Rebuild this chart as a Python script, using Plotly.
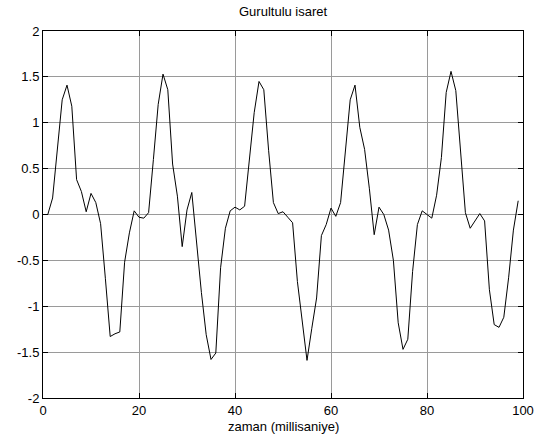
import plotly.graph_objects as go

t_ms = list(range(100))
signal = [
    0.0, 0.0, 0.18, 0.72, 1.25, 1.41, 1.18, 0.38, 0.25, 0.03,
    0.23, 0.13, -0.10, -0.70, -1.33, -1.30, -1.28, -0.52, -0.20, 0.04,
    -0.03, -0.04, 0.02, 0.60, 1.20, 1.53, 1.36, 0.55, 0.20, -0.35,
    0.05, 0.24, -0.33, -0.85, -1.31, -1.58, -1.51, -0.58, -0.15, 0.04,
    0.08, 0.05, 0.09, 0.58, 1.11, 1.45, 1.36, 0.70, 0.13, 0.01,
    0.03, -0.03, -0.09, -0.73, -1.16, -1.59, -1.24, -0.91, -0.23, -0.11,
    0.07, -0.02, 0.13, 0.65, 1.25, 1.41, 0.95, 0.71, 0.28, -0.22,
    0.08, 0.00, -0.17, -0.50, -1.18, -1.47, -1.36, -0.62, -0.11, 0.04,
    0.00, -0.04, 0.21, 0.62, 1.33, 1.56, 1.35, 0.69, 0.02, -0.15,
    -0.07, 0.01, -0.07, -0.82, -1.20, -1.23, -1.12, -0.69, -0.17, 0.15,
]
x_ticks = [0, 20, 40, 60, 80, 100]
y_ticks = [-2, -1.5, -1, -0.5, 0, 0.5, 1, 1.5, 2]
y_tick_text = ["-2", "-1.5", "-1", "-0.5", "0", "0.5", "1", "1.5", "2"]
title_text = "Gurultulu isaret"
xlabel_text = "zaman (millisaniye)"

fig = go.Figure()
fig.add_trace(go.Scatter(x=t_ms, y=signal, mode="lines",
                         line=dict(color="black", width=1), showlegend=False,
                         hoverinfo="skip"))

axis_common = dict(showline=True, linecolor="black", linewidth=1, mirror="ticks",
                   ticks="inside", ticklen=5, tickcolor="black",
                   showgrid=True, gridcolor="#9a9a9a", gridwidth=1,
                   zeroline=False, automargin=False,
                   tickfont=dict(size=13, color="black"))

fig.update_layout(
    width=550, height=439,
    margin=dict(l=43, r=27, t=31, b=41),
    paper_bgcolor="white", plot_bgcolor="white",
    font=dict(family="Liberation Sans, Arial, sans-serif", size=12, color="black"),
    xaxis=dict(range=[0, 100], tickvals=x_ticks, ticktext=[str(v) for v in x_ticks],
               **axis_common),
    yaxis=dict(range=[-2, 2], tickvals=y_ticks, ticktext=y_tick_text, **axis_common),
    annotations=[
        dict(text=title_text, xref="paper", yref="paper", x=0.5, y=1.0518,
             xanchor="center", yanchor="middle", showarrow=False,
             font=dict(size=13, color="black")),
        dict(text=xlabel_text, xref="paper", yref="paper", x=0.5, y=-0.0763,
             xanchor="center", yanchor="middle", showarrow=False,
             font=dict(size=13, color="black")),
    ],
)

fig.write_html("out.html",
               config={"displayModeBar": False},
               post_script="document.body.style.margin='0px';document.body.style.overflow='hidden';")
